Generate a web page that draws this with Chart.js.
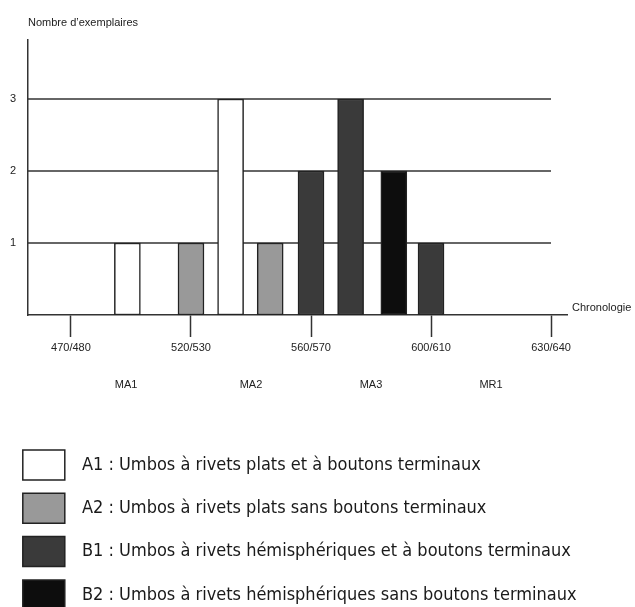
<!DOCTYPE html>
<html lang="fr">
<head>
<meta charset="utf-8">
<title>Umbos - chronologie</title>
<script src="https://cdn.jsdelivr.net/npm/chart.js@4/dist/chart.umd.min.js"></script>
<style>
  html, body { margin: 0; padding: 0; background: #fff; overflow: hidden; }
  #wrap { position: relative; width: 635px; height: 607px; }
</style>
</head>
<body>
<div id="wrap"><canvas id="umbosChart"></canvas></div>
<script>
// time axis: 0 = 470/480, 1 = 520/530 ... 4 = 630/640 (equal spacing, not years)
const periodTicks = [0, 1, 2, 3, 4];
const periodLabels = ["470/480", "520/530", "560/570", "600/610", "630/640"];
const phasePos = [0.46, 1.5, 2.5, 3.5];
const phaseLabels = ["MA1", "MA2", "MA3", "MR1"];
const countTicks = [1, 2, 3];

const typeLabels = [
  "A1 : Umbos à rivets plats et à boutons terminaux",
  "A2 : Umbos à rivets plats sans boutons terminaux",
  "B1 : Umbos à rivets hémisphériques et à boutons terminaux",
  "B2 : Umbos à rivets hémisphériques sans boutons terminaux"
];
const typeColors = ["#ffffff", "#999999", "#3a3a3a", "#0d0d0d"];

// bar positions on the time axis and number of examples
const a1Pos = [0.47, 1.33];
const a1Count = [1, 3];
const a2Pos = [1.0, 1.66];
const a2Count = [1, 1];
const b1Pos = [2.0, 2.33, 3.0];
const b1Count = [2, 3, 1];
const b2Pos = [2.69];
const b2Count = [2];

const seriesPos = [a1Pos, a2Pos, b1Pos, b2Pos];
const seriesCount = [a1Count, a2Count, b1Count, b2Count];

const datasets = typeLabels.map((label, i) => ({
  label,
  data: seriesPos[i].map((x, j) => ({ x, y: seriesCount[i][j] })),
  backgroundColor: typeColors[i],
  borderColor: "#222",
  borderWidth: 1.5,
  borderSkipped: false,
  barThickness: 26,
  grouped: false
}));

const axisColor = "#333";
const textFont = { family: "'Liberation Sans', Arial, sans-serif", size: 11 };

// horizontal lines stop at the last period tick; axis name at the end of the baseline
const extras = {
  id: "extras",
  beforeDatasetsDraw(chart) {
    const { ctx, chartArea, scales: { x, y } } = chart;
    ctx.save();
    ctx.strokeStyle = axisColor;
    ctx.lineWidth = 1.5;
    countTicks.forEach((v) => {
      const py = y.getPixelForValue(v);
      ctx.beginPath();
      ctx.moveTo(chartArea.left, py);
      ctx.lineTo(x.getPixelForValue(periodTicks[periodTicks.length - 1]), py);
      ctx.stroke();
    });
    ctx.restore();
  },
  afterDraw(chart) {
    const { ctx, chartArea } = chart;
    ctx.save();
    ctx.font = "11px 'Liberation Sans', Arial, sans-serif";
    ctx.fillStyle = "#222";
    ctx.textBaseline = "middle";
    ctx.fillText("Chronologie", chartArea.right + 5, chartArea.bottom - 7);
    ctx.restore();
  }
};

new Chart(document.getElementById("umbosChart"), {
  type: "bar",
  data: { datasets },
  plugins: [extras],
  options: {
    responsive: true,
    maintainAspectRatio: false,
    animation: false,
    layout: { padding: { left: 9.5, right: 0, top: 0, bottom: 0 } },
    scales: {
      x: {
        type: "linear",
        min: -0.358,
        max: 4.133,
        offset: false,
        afterBuildTicks: (s) => {
          s.ticks = [...periodTicks, ...phasePos].sort((a, b) => a - b).map((v) => ({ value: v }));
        },
        afterFit: (s) => { s.height = 121.7; },
        grid: {
          offset: false,
          drawOnChartArea: false,
          drawTicks: true,
          tickLength: 22,
          tickWidth: 1.5,
          tickColor: (c) => (c.tick && periodTicks.includes(c.tick.value) ? axisColor : "transparent")
        },
        border: { display: true, color: axisColor, width: 1.5 },
        ticks: {
          autoSkip: false,
          maxRotation: 0,
          padding: 1.75,
          color: "#222",
          font: { ...textFont, lineHeight: 1.682 },
          callback: (v) => {
            const i = periodTicks.indexOf(v);
            if (i >= 0) return periodLabels[i];
            const j = phasePos.indexOf(v);
            return j >= 0 ? ["", "", phaseLabels[j]] : "";
          }
        }
      },
      y: {
        min: 0,
        max: 3.82,
        afterBuildTicks: (s) => { s.ticks = countTicks.map((v) => ({ value: v })); },
        afterFit: (s) => { s.width = 18.5; },
        grid: { display: false, drawTicks: false },
        border: { display: true, color: axisColor, width: 1.5 },
        ticks: { padding: 12, color: "#222", font: textFont }
      },
      // empty right-hand band that leaves room for "Chronologie"
      yRight: {
        position: "right",
        afterFit: (s) => { s.width = 68; },
        grid: { display: false, drawTicks: false },
        border: { display: false },
        ticks: { display: false }
      }
    },
    plugins: {
      tooltip: { enabled: false },
      title: {
        display: true,
        text: "Nombre d’exemplaires",
        align: "start",
        fullSize: false,
        color: "#222",
        font: { ...textFont, weight: "normal" },
        padding: { top: 16, bottom: 10.8 }
      },
      legend: {
        position: "bottom",
        align: "start",
        maxHeight: 170.3,
        labels: {
          boxWidth: 42,
          boxHeight: 30,
          padding: 13.3,
          color: "#1a1a1a",
          font: { family: "'DejaVu Sans Condensed', 'Liberation Sans Narrow', sans-serif", size: 18 },
          generateLabels: (chart) =>
            Chart.defaults.plugins.legend.labels.generateLabels(chart).map((l) => ({ ...l, text: "\u2002" + l.text }))
        }
      }
    }
  }
});
</script>
</body>
</html>
